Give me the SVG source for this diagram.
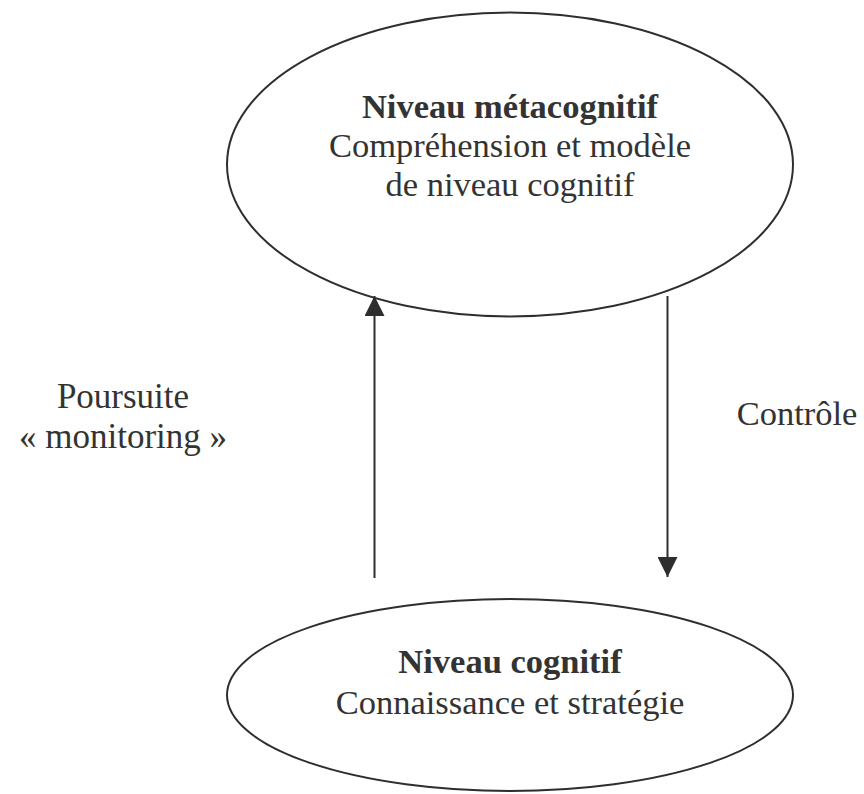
<svg xmlns="http://www.w3.org/2000/svg" width="864" height="794" viewBox="0 0 864 794">
<style>
.node{fill:none;stroke:#2e2e2e;stroke-width:2}
.t{font-family:"Liberation Serif","Times New Roman",serif;font-size:34.5px;fill:#333;text-anchor:middle}
.b{font-weight:bold}
.l{font-size:35px}
.edge{stroke:#2e2e2e;stroke-width:2;fill:none}
</style>
<defs>
<marker id="ah" viewBox="0 0 20 20" refX="20" refY="10" markerWidth="20" markerHeight="20" markerUnits="userSpaceOnUse" orient="auto">
<path d="M0,0 L20,10 L0,20 Z" fill="#2e2e2e"/>
</marker>
</defs>
<rect width="864" height="794" fill="#fff"/>
<g id="meta">
<ellipse class="node" cx="510" cy="164.5" rx="283" ry="152"/>
<text class="t b" x="510" y="118">Niveau métacognitif</text>
<text class="t" x="510" y="157">Compréhension et modèle</text>
<text class="t" x="510" y="196">de niveau cognitif</text>
</g>
<g id="cog">
<ellipse class="node" cx="510" cy="695" rx="283" ry="96"/>
<text class="t b" x="510" y="673">Niveau cognitif</text>
<text class="t" x="510" y="714">Connaissance et stratégie</text>
</g>
<g id="connectors">
<line class="edge" x1="374.5" y1="578" x2="374.5" y2="296" marker-end="url(#ah)"/>
<line class="edge" x1="667.5" y1="296" x2="667.5" y2="577" marker-end="url(#ah)"/>
</g>
<g id="labels">
<text class="t l" x="123" y="408">Poursuite</text>
<text class="t l" x="123" y="448">« monitoring »</text>
<text class="t" x="797" y="425">Contrôle</text>
</g>
</svg>
